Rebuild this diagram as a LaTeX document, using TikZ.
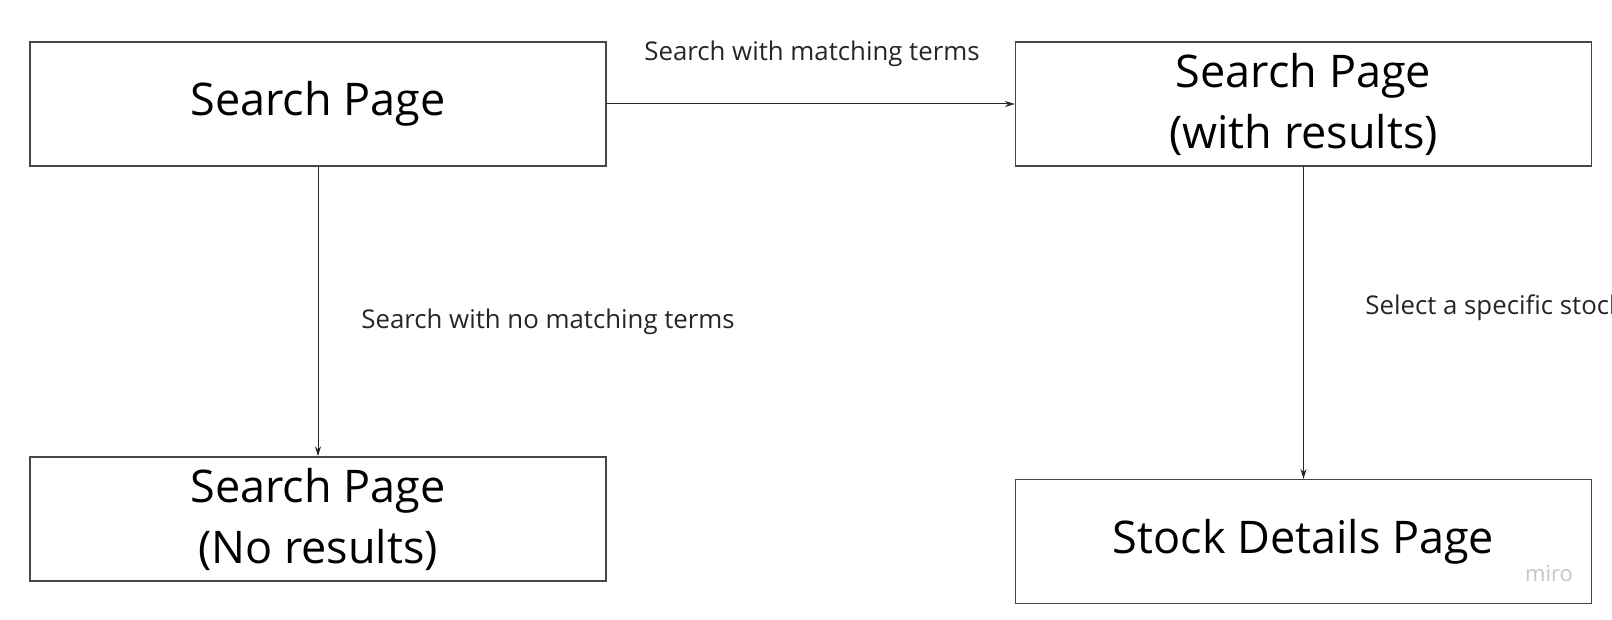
\documentclass[tikz,border=0pt]{standalone}
\usepackage{fontspec}
\setmainfont{Open Sans}
\usetikzlibrary{arrows.meta}

\begin{document}
\begin{tikzpicture}[x=0.5pt,y=-0.5pt,
	page/.style={draw=black!72, line width=0.7pt, minimum width=288pt, minimum height=62pt, inner sep=0pt, align=center, font=\fontsize{22.5}{30.5}\selectfont},
	flow/.style={draw=black!85, line width=0.5pt, -{Stealth[length=5pt,width=3pt]}},
	lbl/.style={inner sep=0pt, font=\fontsize{12.9}{15}\selectfont, text=black!85}]
	%Frame of the board, 1612 x 620 px
	\useasboundingbox (0,0) rectangle (1612,620);
	
	%Centres of the two columns of pages
	\pgfmathsetmacro{\xl}{318}
	\pgfmathsetmacro{\xr}{1303.5}
	
	%The pages
	\node[page] (search) at (\xl,104) {Search Page};
	\node[page] (results) at (\xr,104) {Search Page\\(with results)};
	\node[page] (noresults) at (\xl,519) {Search Page\\(No results)};
	\node[page] (details) at (\xr,541.7) {Stock Details Page};
	\node[inner sep=0pt, text={rgb,255:red,196;green,196;blue,204}, font=\fontsize{11}{13}\selectfont] (miro) at (1549,574) {miro};
	
	%The transitions
	\draw[flow] (search) -- (results);
	\draw[flow] (search) -- (noresults);
	\draw[flow] (results) -- (details);
	
	\node[lbl] (lmatch) at (812,54) {Search with matching terms};
	\node[lbl, anchor=west] (lnomatch) at (361,322) {Search with no matching terms};
	\node[lbl, anchor=west] (lselect) at (1365,307.5) {Select a specific stock};
\end{tikzpicture}
\end{document}
